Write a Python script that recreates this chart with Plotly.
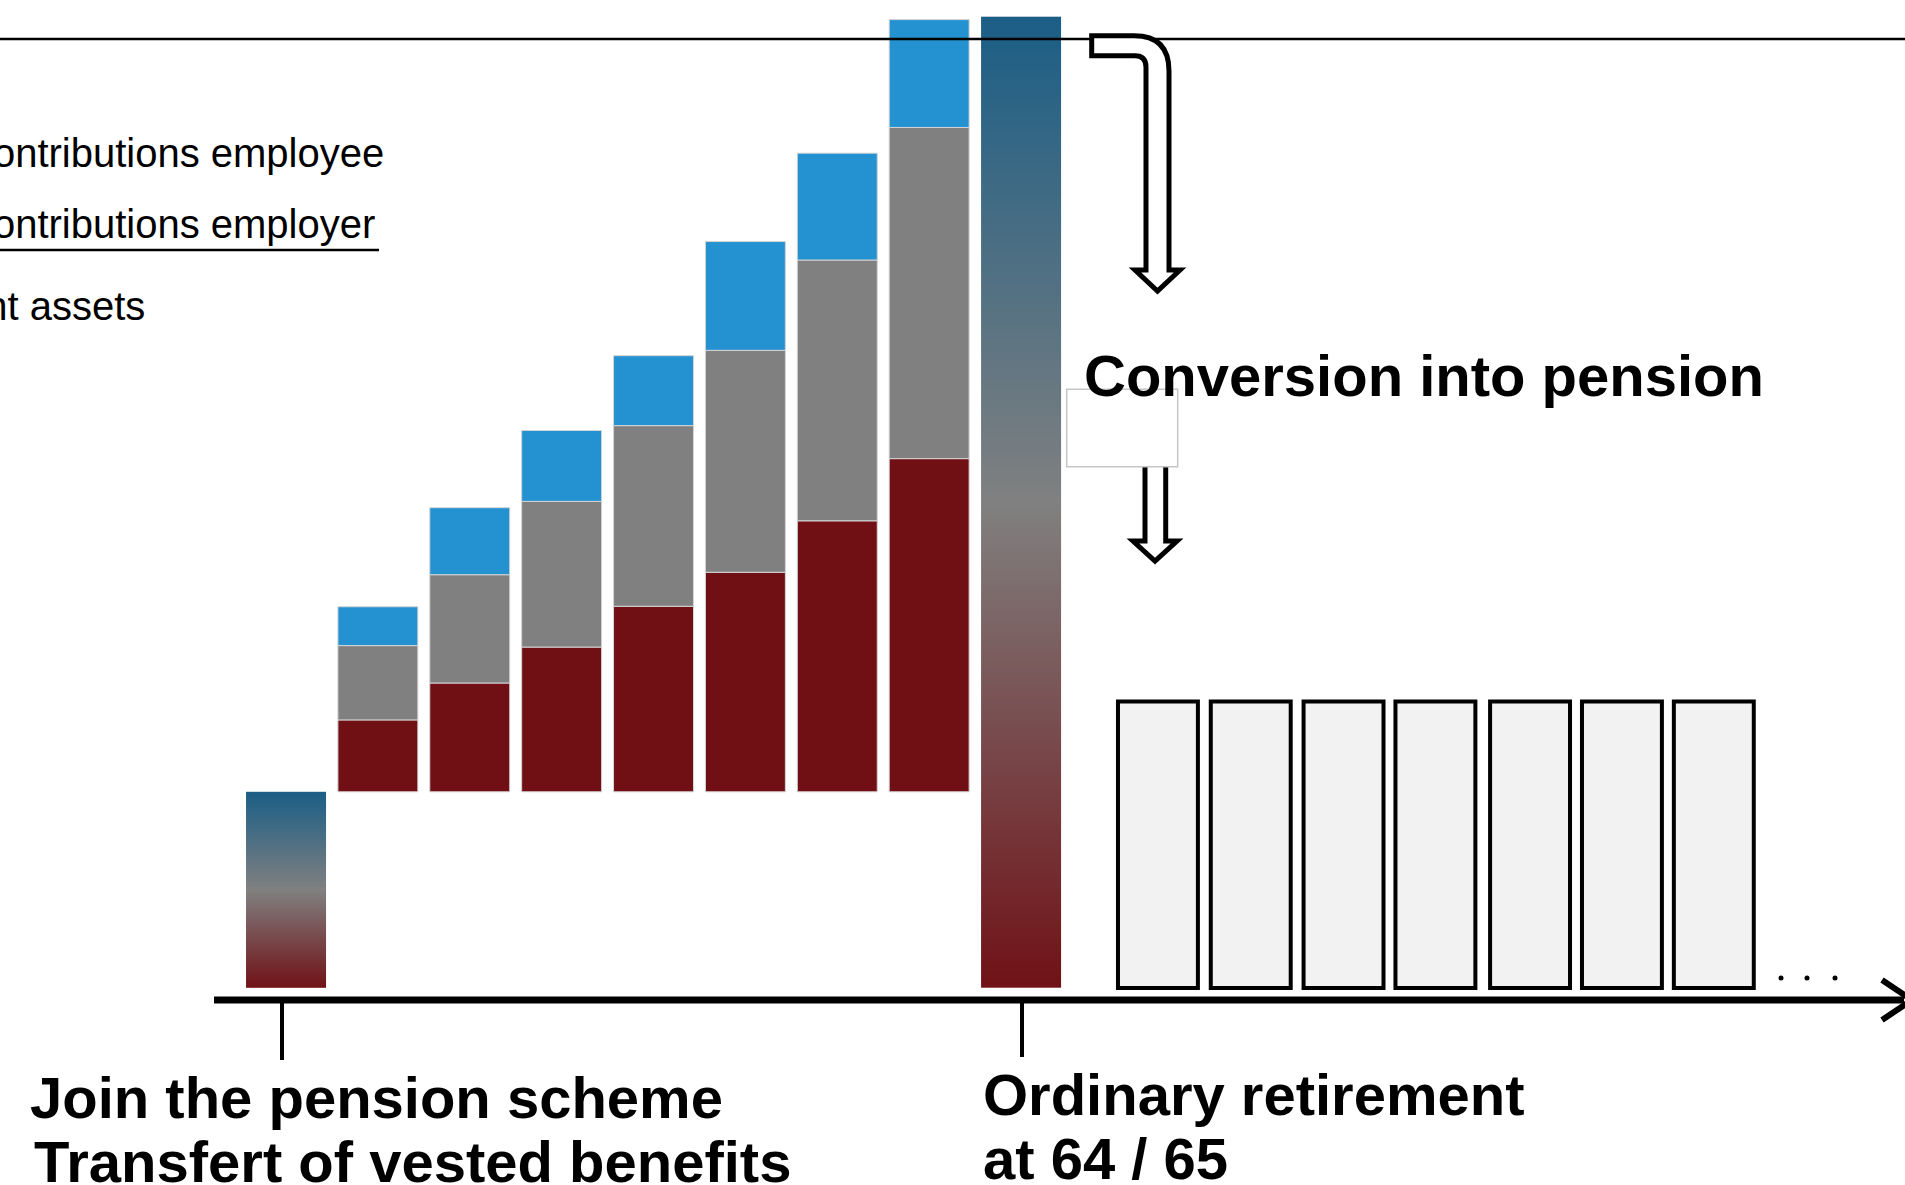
import numpy as np
import plotly.graph_objects as go

W, H = 1905, 1185

# ---- data -----------------------------------------------------------------
# accumulation years (x position of each stacked bar)
stage_x = [1, 2, 3, 4, 5, 6, 7]
vested_benefits = 20.2                      # capital brought in when joining
retirement_assets = [7.4, 11.2, 14.9, 19.1, 22.6, 27.9, 34.3]
employer_contrib = [7.65, 11.15, 15.0, 18.6, 22.85, 26.85, 34.1]
employee_contrib = [4.0, 6.9, 7.3, 7.2, 11.2, 11.0, 11.1]

entry_x = 0
retirement_x = 8
retirement_capital = 100.0                  # capital at ordinary retirement

# yearly pension after conversion
pension_x = [9.49, 10.50, 11.51, 12.51, 13.54, 14.54, 15.54]
pension_amount = [29.5, 29.5, 29.5, 29.5, 29.5, 29.5, 29.5]

legend_labels = ["Contributions employee", "Contributions employer", "Retirement assets"]
entry_labels = ["Join the pension scheme", "Transfert of vested benefits"]
retire_labels = ["Ordinary retirement", "at 64 / 65"]
conversion_label = "Conversion into pension"

# ---- styling ----------------------------------------------------------------
BLUE = "#2492D0"
GREY = "#808080"
RED = "#700F14"
GRAD = [[0.0, "#701217"], [0.5, "#808080"], [1.0, "#1B5E86"]]
FONT = "Liberation Sans, Arial, sans-serif"
BAR_W = 0.87

# axis scaling (pixels per unit) so the figure fills the whole canvas
PX_X, X0 = 91.88, 286.0
PX_Y, BASE = 9.713, 988.0
x_range = [-X0 / PX_X, (W - X0) / PX_X]
y_range = [-(H - BASE) / PX_Y, BASE / PX_Y]

fig = go.Figure()

# stacked contribution bars resting on the vested benefits
assets = np.array(retirement_assets)
employer = np.array(employer_contrib)
employee = np.array(employee_contrib)
base0 = np.full(len(stage_x), vested_benefits)
edge = dict(color="#d4d4d4", width=1)
fig.add_trace(go.Bar(x=stage_x, y=assets, base=base0, width=BAR_W,
                     marker=dict(color=RED, line=edge), hoverinfo="skip"))
fig.add_trace(go.Bar(x=stage_x, y=employer, base=base0 + assets, width=BAR_W,
                     marker=dict(color=GREY, line=edge), hoverinfo="skip"))
fig.add_trace(go.Bar(x=stage_x, y=employee, base=base0 + assets + employer, width=BAR_W,
                     marker=dict(color=BLUE, line=edge), hoverinfo="skip"))


def gradient_bar(xc, height, n=240):
    z = np.linspace(0, 1, n).reshape(-1, 1)
    return go.Heatmap(z=z, x0=xc, dx=BAR_W, y0=height / n / 2, dy=height / n,
                      colorscale=GRAD, zmin=0, zmax=1, showscale=False,
                      hoverinfo="skip", zsmooth=False)


fig.add_trace(gradient_bar(entry_x, vested_benefits))
fig.add_trace(gradient_bar(retirement_x, retirement_capital))

# pension payments
fig.add_trace(go.Bar(x=pension_x, y=pension_amount, width=BAR_W,
                     marker=dict(color="#F2F2F2", line=dict(color="black", width=4)),
                     hoverinfo="skip"))


# ---- decorations (pixel coordinates converted to paper) --------------------
def px(x):
    return x / W


def py(y):
    return 1 - y / H


def path(cmds):
    out = []
    for c in cmds:
        op, pts = c[0], c[1:]
        coords = " ".join(f"{px(pts[i]):.5f},{py(pts[i + 1]):.5f}" for i in range(0, len(pts), 2))
        out.append(f"{op} {coords}".strip())
    return " ".join(out)


shapes = []
# top rule and legend underline
shapes.append(dict(type="line", xref="paper", yref="paper", x0=0, x1=1, y0=py(39), y1=py(39),
                   line=dict(color="black", width=2.5), layer="above"))
shapes.append(dict(type="line", xref="paper", yref="paper", x0=0, x1=px(379), y0=py(250), y1=py(250),
                   line=dict(color="black", width=2.5), layer="above"))
# time axis with open arrow head
shapes.append(dict(type="line", xref="paper", yref="paper", x0=px(214), x1=px(1904), y0=py(1000), y1=py(1000),
                   line=dict(color="black", width=7), layer="above"))
shapes.append(dict(type="path", xref="paper", yref="paper",
                   path=path([("M", 1882, 980), ("L", 1912, 1000), ("L", 1882, 1020)]),
                   line=dict(color="black", width=6), layer="above"))
# event ticks under the axis
for xt, yb in [(282, 1060), (1022, 1057)]:
    shapes.append(dict(type="line", xref="paper", yref="paper", x0=px(xt), x1=px(xt), y0=py(1000), y1=py(yb),
                       line=dict(color="black", width=4), layer="above"))
# continuation dots
for xd in [1781, 1807, 1835]:
    shapes.append(dict(type="circle", xref="paper", yref="paper",
                       x0=px(xd - 2.5), x1=px(xd + 2.5), y0=py(978 - 2.5), y1=py(978 + 2.5),
                       fillcolor="black", line=dict(width=0), layer="above"))
# hooked conversion arrow
hook = [("M", 1091.7, 35.7), ("L", 1134, 35.7), ("Q", 1169, 35.7, 1169, 71),
        ("L", 1169, 270), ("L", 1180, 270), ("L", 1157.5, 291), ("L", 1135, 270),
        ("L", 1146, 270), ("L", 1146, 67), ("Q", 1146, 55.7, 1135, 55.7),
        ("L", 1091.7, 55.7), ("Z",)]
shapes.append(dict(type="path", xref="paper", yref="paper", path=path(hook),
                   fillcolor="white", line=dict(color="black", width=5), layer="above"))
# lower arrow
down = [("M", 1145, 440), ("L", 1145, 541), ("L", 1133, 541), ("L", 1155, 561),
        ("L", 1177, 541), ("L", 1165.7, 541), ("L", 1165.7, 440), ("Z",)]
shapes.append(dict(type="path", xref="paper", yref="paper", path=path(down),
                   fillcolor="white", line=dict(color="black", width=5), layer="above"))
# small blank box between the arrows
shapes.append(dict(type="rect", xref="paper", yref="paper", x0=px(1066.7), x1=px(1177.7),
                   y0=py(466.7), y1=py(389.3), fillcolor="white",
                   line=dict(color="#c6c6c6", width=1.5), layer="above"))

# ---- text --------------------------------------------------------------------
annotations = []


def label(text, x, baseline, size, bold=False, anchor="left"):
    t = f"<b>{text}</b>" if bold else text
    annotations.append(dict(text=t, xref="paper", yref="paper", x=px(x),
                            y=py(baseline + 0.212 * size + 1), xanchor=anchor, yanchor="bottom",
                            showarrow=False, font=dict(family=FONT, size=size, color="black")))


for txt, xr, bl in zip(legend_labels, [386, 377, 147], [168, 239, 321]):
    label(txt, xr, bl, 40, anchor="right")
label(entry_labels[0], 28, 1119, 58, bold=True)
label(entry_labels[1], 32, 1183, 58, bold=True)
label(retire_labels[0], 981, 1116, 58, bold=True)
label(retire_labels[1], 981, 1180, 58, bold=True)
label(conversion_label, 1082, 397, 58, bold=True)

fig.update_layout(
    width=W, height=H, margin=dict(l=0, r=0, t=0, b=0),
    paper_bgcolor="white", plot_bgcolor="white",
    barmode="overlay", showlegend=False,
    xaxis=dict(range=x_range, visible=False, fixedrange=True),
    yaxis=dict(range=y_range, visible=False, fixedrange=True),
    shapes=shapes, annotations=annotations,
)

fig.write_html("out.html")
